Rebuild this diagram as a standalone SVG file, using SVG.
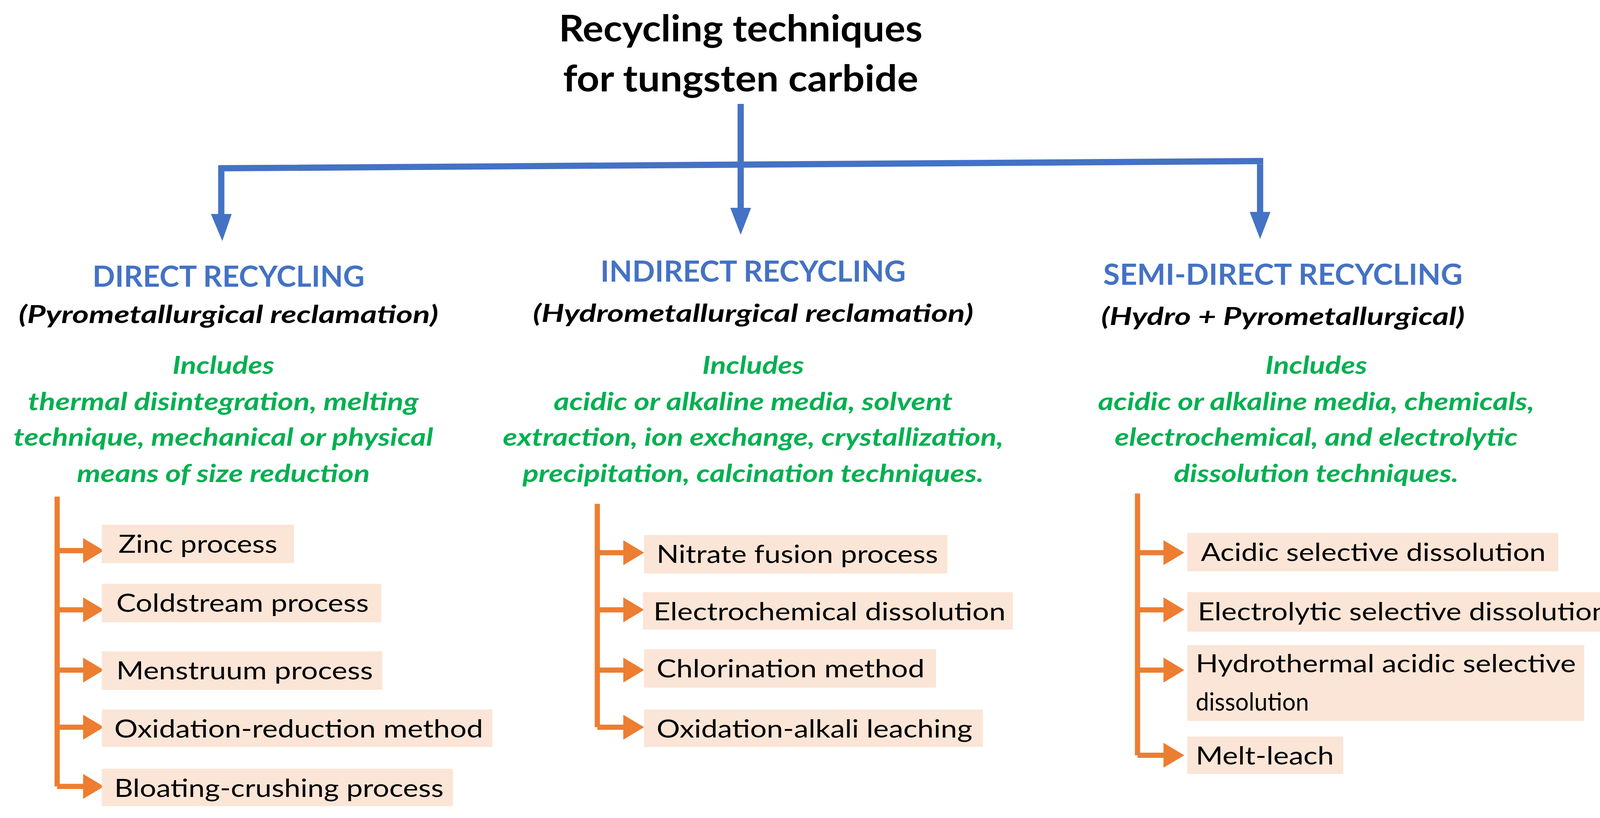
<svg xmlns="http://www.w3.org/2000/svg" width="4170" height="2094" viewBox="0 0 4170 2094">
<style>
.t{font-family:Lato,"Open Sans",sans-serif;font-weight:bold;font-size:35px;fill:#000;text-anchor:middle}
.h{font-family:Lato,"Open Sans",sans-serif;font-weight:bold;font-size:28px;fill:#4472C4;text-anchor:middle}
.s{font-family:Lato,"Open Sans",sans-serif;font-weight:bold;font-style:italic;font-size:24px;fill:#000;text-anchor:middle}
.g{font-family:Lato,"Open Sans",sans-serif;font-weight:bold;font-style:italic;font-size:24px;fill:#00B050;text-anchor:middle}
.b{fill:#FBE5D6}
.bt{font-family:Lato,"Open Sans",sans-serif;font-size:24px;fill:#000}
.bl{stroke:#4472C4;stroke-width:6;fill:none}
.ol{stroke:#ED7D31;stroke-width:5;fill:none}
.oa{fill:#ED7D31}
.ba{fill:#4472C4}
</style>
<rect width="4170" height="2094" fill="#fff"/>
<g transform="scale(2.6594)">
<g id="title">
<text class="t" x="713" y="40" textLength="350" lengthAdjust="spacingAndGlyphs">Recycling techniques</text>
<text class="t" x="713" y="88" textLength="342" lengthAdjust="spacingAndGlyphs">for tungsten carbide</text>
</g>
<g id="connectors">
<path class="bl" d="M713,100 V208 M210,162 L1216,155 M213,160 V208 M1213,155 V208"/>
<polygon class="ba" points="203,206 223,206 214,232"/>
<polygon class="ba" points="703,200 723,200 713,226"/>
<polygon class="ba" points="1203,204 1223,204 1213,230"/>
<path class="ol" d="M55,478 V757 M55,530 H82 M55,587 H82 M55,645 H82 M55,700 H82 M55,757 H82"/>
<path class="ol" d="M575,485 V700 M575,532 H602 M575,587 H602 M575,645 H602 M575,700 H602"/>
<path class="ol" d="M1095,475 V727 M1095,532 H1122 M1095,587 H1122 M1095,645 H1122 M1095,727 H1122"/>
<g class="oa">
<polygon points="80,518 100,530 80,542"/><polygon points="80,575 100,587 80,599"/><polygon points="80,633 100,645 80,657"/><polygon points="80,688 100,700 80,712"/><polygon points="80,745 100,757 80,769"/>
<polygon points="600,520 620,532 600,544"/><polygon points="600,575 620,587 600,599"/><polygon points="600,633 620,645 600,657"/><polygon points="600,688 620,700 600,712"/>
<polygon points="1120,520 1140,532 1120,544"/><polygon points="1120,575 1140,587 1120,599"/><polygon points="1120,633 1140,645 1120,657"/><polygon points="1120,715 1140,727 1120,739"/>
</g>
</g>
<g id="direct">
<text class="h" x="220" y="276" textLength="262" lengthAdjust="spacingAndGlyphs">DIRECT RECYCLING</text>
<text class="s" x="220" y="311" textLength="404" lengthAdjust="spacingAndGlyphs">(Pyrometallurgical reclamation)</text>
<text class="g" x="215" y="360" textLength="98" lengthAdjust="spacingAndGlyphs">Includes</text>
<text class="g" x="215" y="395" textLength="376" lengthAdjust="spacingAndGlyphs">thermal disintegration, melting</text>
<text class="g" x="215" y="429" textLength="404" lengthAdjust="spacingAndGlyphs">technique, mechanical or physical</text>
<text class="g" x="215" y="464" textLength="282" lengthAdjust="spacingAndGlyphs">means of size reduction</text>
</g>
<g id="indirect">
<text class="h" x="725" y="271" textLength="294" lengthAdjust="spacingAndGlyphs">INDIRECT RECYCLING</text>
<text class="s" x="725" y="310" textLength="424" lengthAdjust="spacingAndGlyphs">(Hydrometallurgical reclamation)</text>
<text class="g" x="725" y="360" textLength="98" lengthAdjust="spacingAndGlyphs">Includes</text>
<text class="g" x="725" y="395" textLength="384" lengthAdjust="spacingAndGlyphs">acidic or alkaline media, solvent</text>
<text class="g" x="725" y="429" textLength="482" lengthAdjust="spacingAndGlyphs">extraction, ion exchange, crystallization,</text>
<text class="g" x="725" y="464" textLength="444" lengthAdjust="spacingAndGlyphs">precipitation, calcination techniques.</text>
</g>
<g id="semidirect">
<text class="h" x="1235" y="274" textLength="346" lengthAdjust="spacingAndGlyphs">SEMI-DIRECT RECYCLING</text>
<text class="s" x="1235" y="313" textLength="350" lengthAdjust="spacingAndGlyphs">(Hydro + Pyrometallurgical)</text>
<text class="g" x="1267" y="360" textLength="98" lengthAdjust="spacingAndGlyphs">Includes</text>
<text class="g" x="1267" y="395" textLength="420" lengthAdjust="spacingAndGlyphs">acidic or alkaline media, chemicals,</text>
<text class="g" x="1267" y="429" textLength="388" lengthAdjust="spacingAndGlyphs">electrochemical, and electrolytic</text>
<text class="g" x="1267" y="464" textLength="274" lengthAdjust="spacingAndGlyphs">dissolution techniques.</text>
</g>
<g id="zinc"><rect class="b" x="98" y="505" width="185" height="37"/><text class="bt" x="114" y="532" textLength="153" lengthAdjust="spacingAndGlyphs">Zinc process</text></g>
<g id="coldstream"><rect class="b" x="98" y="562" width="269" height="37"/><text class="bt" x="112" y="589" textLength="243" lengthAdjust="spacingAndGlyphs">Coldstream process</text></g>
<g id="menstruum"><rect class="b" x="98" y="627" width="270" height="37"/><text class="bt" x="112" y="654" textLength="247" lengthAdjust="spacingAndGlyphs">Menstruum process</text></g>
<g id="oxred"><rect class="b" x="98" y="683" width="376" height="36"/><text class="bt" x="110" y="710" textLength="355" lengthAdjust="spacingAndGlyphs">Oxidation-reduction method</text></g>
<g id="bloating"><rect class="b" x="98" y="740" width="338" height="36"/><text class="bt" x="110" y="767" textLength="317" lengthAdjust="spacingAndGlyphs">Bloating-crushing process</text></g>
<g id="nitrate"><rect class="b" x="620" y="515" width="292" height="37"/><text class="bt" x="632" y="542" textLength="271" lengthAdjust="spacingAndGlyphs">Nitrate fusion process</text></g>
<g id="electrochem"><rect class="b" x="619" y="570" width="356" height="36"/><text class="bt" x="629" y="597" textLength="339" lengthAdjust="spacingAndGlyphs">Electrochemical dissolution</text></g>
<g id="chlorination"><rect class="b" x="620" y="625" width="281" height="37"/><text class="bt" x="632" y="652" textLength="258" lengthAdjust="spacingAndGlyphs">Chlorination method</text></g>
<g id="oxalkali"><rect class="b" x="620" y="683" width="326" height="36"/><text class="bt" x="632" y="710" textLength="304" lengthAdjust="spacingAndGlyphs">Oxidation-alkali leaching</text></g>
<g id="acidic"><rect class="b" x="1143" y="513" width="357" height="37"/><text class="bt" x="1156" y="540" textLength="332" lengthAdjust="spacingAndGlyphs">Acidic selective dissolution</text></g>
<g id="electrolytic"><rect class="b" x="1143" y="570" width="415" height="38"/><text class="bt" x="1153" y="597" textLength="395" lengthAdjust="spacingAndGlyphs">Electrolytic selective dissolution</text></g>
<g id="hydrothermal"><rect class="b" x="1143" y="621" width="382" height="73"/><text class="bt" x="1151" y="647" textLength="366" lengthAdjust="spacingAndGlyphs">Hydrothermal acidic selective</text><text class="bt" x="1151" y="684" textLength="109" lengthAdjust="spacingAndGlyphs">dissolution</text></g>
<g id="meltleach"><rect class="b" x="1143" y="709" width="150" height="36"/><text class="bt" x="1151" y="736" textLength="133" lengthAdjust="spacingAndGlyphs">Melt-leach</text></g>
</g>
</svg>
